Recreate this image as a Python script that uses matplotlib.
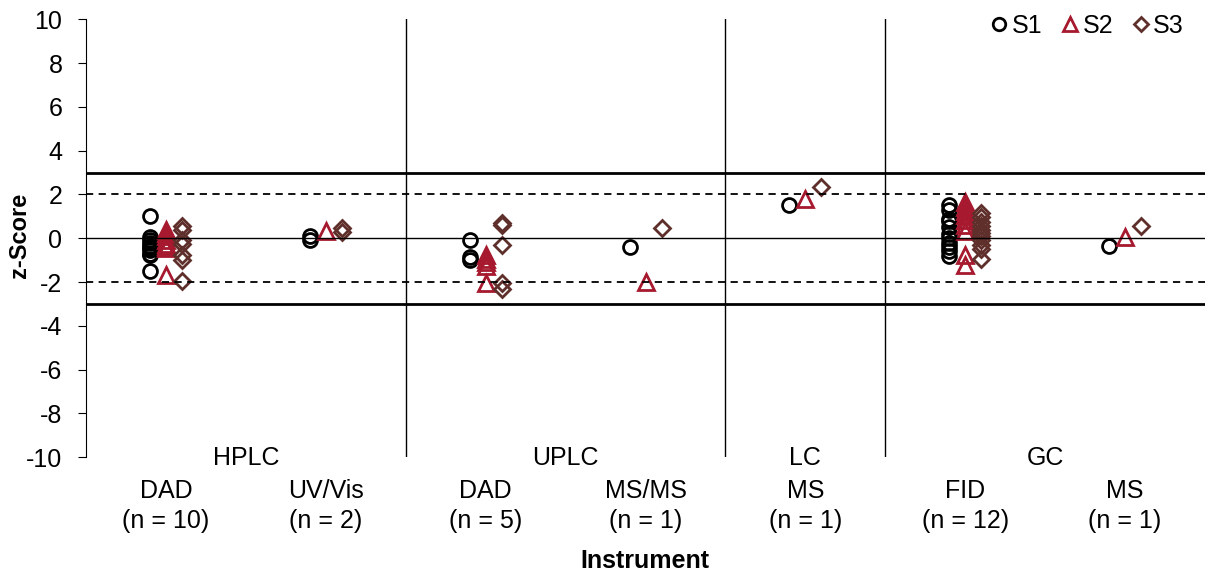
import numpy as np
import matplotlib.pyplot as plt

plt.rcParams['font.family'] = ['Liberation Sans', 'DejaVu Sans']
plt.rcParams['axes.unicode_minus'] = False

groups = ['HPLC', 'UPLC', 'LC', 'GC']
group_span = [(0, 2), (2, 4), (4, 5), (5, 7)]
detectors = ['DAD', 'UV/Vis', 'DAD', 'MS/MS', 'MS', 'FID', 'MS']
counts = ['(n = 10)', '(n = 2)', '(n = 5)', '(n = 1)', '(n = 1)', '(n = 12)', '(n = 1)']

# z-scores per detector column, one list per sample
s1 = [[1.0, 0.05, -0.1, -0.2, -0.35, -0.45, -0.55, -0.7, -0.75, -1.5],
      [0.1, -0.1],
      [-0.1, -0.85, -1.0],
      [-0.4],
      [1.5],
      [1.5, 1.3, 0.9, 0.8, 0.5, 0.2, 0.0, -0.2, -0.4, -0.6, -0.8],
      [-0.35]]
s2 = [[0.4, 0.25, 0.1, -0.1, -0.25, -0.35, -0.45, -1.7],
      [0.35],
      [-0.75, -0.95, -1.1, -1.25, -2.05],
      [-2.0],
      [1.8],
      [1.65, 1.45, 1.25, 1.05, 0.85, 0.6, 0.35, -0.75, -1.2],
      [0.05]]
s3 = [[0.55, 0.4, -0.1, -0.25, -0.75, -1.0, -1.95],
      [0.45, 0.3],
      [0.7, 0.6, -0.3, -2.05, -2.3],
      [0.45],
      [2.35],
      [1.15, 0.95, 0.75, 0.55, 0.4, 0.25, 0.1, -0.1, -0.3, -0.5, -0.95],
      [0.55]]

red = '#A6192E'
brown = '#5E2F2B'
fs = 18

fig = plt.figure(figsize=(12.05, 5.78), dpi=100)
ax = fig.add_axes([0.0714, 0.2093, 0.9286, 0.757])

for i in range(len(detectors)):
    c = i + 0.5
    ax.plot([c - 0.1] * len(s1[i]), s1[i], 'o', ms=10, mfc='none', mec='black', mew=2, ls='none')
    ax.plot([c] * len(s2[i]), s2[i], '^', ms=11, mfc='none', mec=red, mew=2, ls='none')
    ax.plot([c + 0.1] * len(s3[i]), s3[i], 'D', ms=8, mfc='none', mec=brown, mew=2, ls='none')

ax.axhline(0, color='black', lw=1)
ax.axhline(3, color='black', lw=2)
ax.axhline(-3, color='black', lw=2)
ax.axhline(2, color='black', lw=1.3, ls=(0, (4, 3)))
ax.axhline(-2, color='black', lw=1.3, ls=(0, (4, 3)))
for x in [2, 4, 5]:
    ax.axvline(x, color='black', lw=1)

ax.set_xlim(0, 7)
ax.set_ylim(-10, 10)
ax.set_yticks(np.arange(-10, 11, 2))
ax.tick_params(axis='y', direction='out', length=6, labelsize=fs, pad=11)
ax.set_xticks([])
for sp in ['top', 'right', 'bottom']:
    ax.spines[sp].set_visible(False)
fig.text(0.016, 0.5935, 'z-Score', rotation=90, ha='center', va='center',
         fontsize=17, fontweight='bold')

tr = ax.get_xaxis_transform()
for g, (a, b) in zip(groups, group_span):
    ax.text((a + b) / 2, -0.003, g, transform=tr, ha='center', va='center', fontsize=fs)
for i in range(len(detectors)):
    ax.text(i + 0.5, -0.078, detectors[i], transform=tr, ha='center', va='center', fontsize=fs)
    ax.text(i + 0.5, -0.146, counts[i], transform=tr, ha='center', va='center', fontsize=fs)
fig.text(0.535, 0.03, 'Instrument', ha='center', va='center', fontsize=fs, fontweight='bold')

h1, = ax.plot([], [], 'o', ms=9, mfc='none', mec='black', mew=2)
h2, = ax.plot([], [], '^', ms=10, mfc='none', mec=red, mew=2)
h3, = ax.plot([], [], 'D', ms=7, mfc='none', mec=brown, mew=2)
ax.legend([h1, h2, h3], ['S1', 'S2', 'S3'], loc='upper right', ncol=3, frameon=False,
          fontsize=fs, handletextpad=0.0, columnspacing=0.6, handlelength=1.0,
          bbox_to_anchor=(0.99, 1.035), borderaxespad=0)

fig.savefig('out.png', dpi=100)
